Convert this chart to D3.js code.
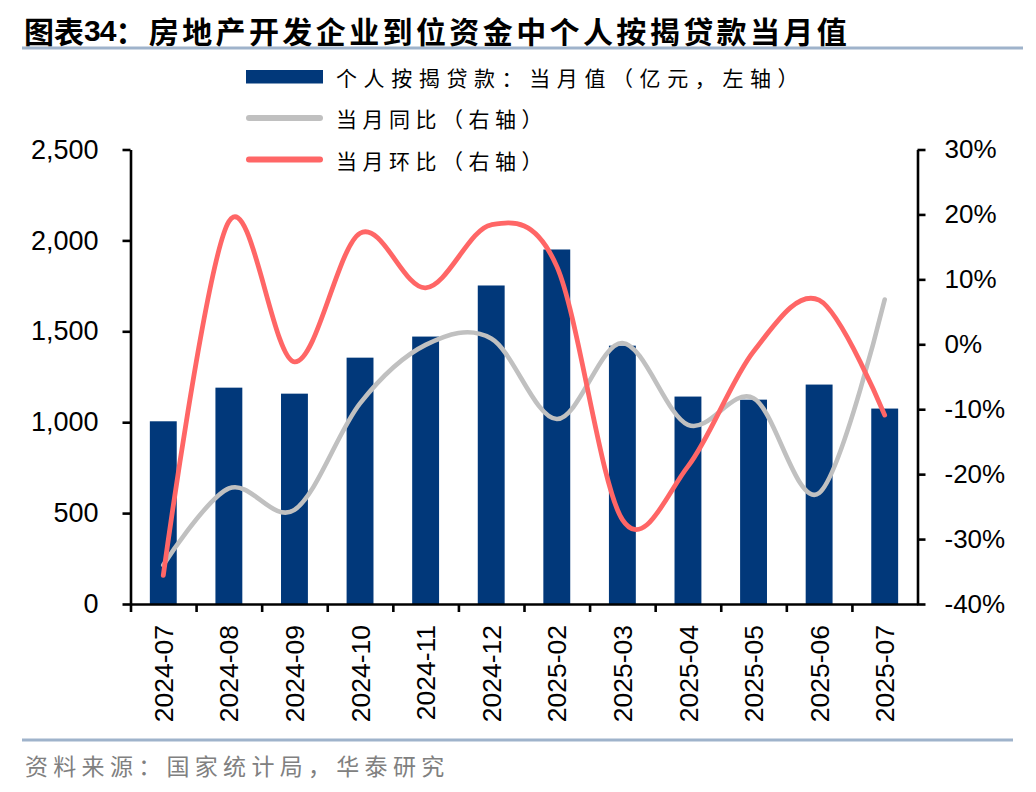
<!DOCTYPE html>
<html><head><meta charset="utf-8">
<script src="https://cdn.jsdelivr.net/npm/d3@7/dist/d3.min.js"></script>
<style>
html,body{margin:0;padding:0;background:#fff;}
svg{display:block;}
</style></head>
<body>
<svg id="chart" width="1036" height="792"></svg>
<script>
const categories = ["2024-07","2024-08","2024-09","2024-10","2024-11","2024-12","2025-02","2025-03","2025-04","2025-05","2025-06","2025-07"];
const loanValues = [1005, 1190, 1157, 1355, 1471, 1752, 1950, 1421, 1141, 1124, 1207, 1075];
const yoyValues  = [-34, -22.2, -25.5, -9.1, -0.1, 0.9, -11.5, 0.2, -12.4, -8.3, -22.9, 6.9];
const momValues  = [-35.6, 18.9, -2.7, 17.1, 8.7, 18.4, 12, -27, -18.8, -1.1, 6.8, -10.9];
const leftTicks = [0, 500, 1000, 1500, 2000, 2500];
const rightTicks = [-40, -30, -20, -10, 0, 10, 20, 30];
const titleText = ["图表", "34", "：房地产开发企业到位资金中个人按揭贷款当月值"];
const legendLabels = ["个人按揭贷款：当月值（亿元，左轴）", "当月同比（右轴）", "当月环比（右轴）"];
const sourceText = "资料来源：国家统计局，华泰研究";

const NUM = "'Liberation Sans', Arial, sans-serif";
const CJK = "'Noto Sans CJK SC', 'Noto Sans', sans-serif";
const C_BAR = "#01387A", C_GRAY = "#C0C0C0", C_RED = "#FF6666", C_RULE = "#9FB3CB";

const svg = d3.select("#chart");

// title
const t = svg.append("text").attr("x", 24).attr("y", 30)
  .attr("dominant-baseline", "central")
  .style("font-family", CJK).style("font-weight", 700).style("font-size", "30px").attr("fill", "#000");
t.append("tspan").text(titleText[0]).style("letter-spacing", "0px");
t.append("tspan").text(titleText[1]).style("font-family", NUM).style("font-size", "30px").style("letter-spacing", "-1px");
t.append("tspan").text(titleText[2]).style("letter-spacing", "3.4px");
svg.append("line").attr("x1", 22).attr("x2", 1023).attr("y1", 48).attr("y2", 48)
  .attr("stroke", C_RULE).attr("stroke-width", 3);

// scales
const plotL = 130.5, plotR = 917.5, plotT = 149.5, plotB = 604;
const x = d3.scaleBand().domain(categories).range([plotL, plotR]).paddingInner(0.59).paddingOuter(0.295);
const xEdge = d3.scaleLinear().domain([0, categories.length]).range([plotL, plotR]);
const yL = d3.scaleLinear().domain([0, 2500]).range([plotB, plotT]);
const yR = d3.scaleLinear().domain([-40, 30]).range([plotB, plotT]);
const cx = d => x(d) + x.bandwidth() / 2;

// bars
svg.append("g").selectAll("rect").data(categories).join("rect")
  .attr("x", d => x(d)).attr("width", x.bandwidth())
  .attr("y", (d, i) => yL(loanValues[i])).attr("height", (d, i) => plotB - yL(loanValues[i]))
  .attr("fill", C_BAR);

// lines
const line = d3.line().x(d => cx(d.c)).y(d => yR(d.v)).curve(d3.curveCardinal.tension(0));
svg.append("path").datum(categories.map((c, i) => ({c, v: yoyValues[i]})))
  .attr("d", line).attr("fill", "none").attr("stroke", C_GRAY).attr("stroke-width", 4.6)
  .attr("stroke-linecap", "round").attr("stroke-linejoin", "round");
svg.append("path").datum(categories.map((c, i) => ({c, v: momValues[i]})))
  .attr("d", line).attr("fill", "none").attr("stroke", C_RED).attr("stroke-width", 4.8)
  .attr("stroke-linecap", "round").attr("stroke-linejoin", "round");

// axes
function styleAxis(g) {
  g.select(".domain").attr("stroke", "#000").attr("stroke-width", 2.6);
  g.selectAll(".tick line").attr("stroke", "#000").attr("stroke-width", 2.6);
  g.selectAll("text").style("font-family", NUM).style("font-size", "26px").attr("fill", "#000");
}
svg.append("g").attr("transform", `translate(${plotL},0)`)
  .call(d3.axisLeft(yL).tickValues(leftTicks).tickFormat(d3.format(",")).tickSize(8).tickSizeOuter(0).tickPadding(24))
  .call(styleAxis).call(g => g.selectAll("text").style("font-size", "27px"));
svg.append("g").attr("transform", `translate(${plotR},0)`)
  .call(d3.axisRight(yR).tickValues(rightTicks).tickFormat(d => d + "%").tickSize(8).tickSizeOuter(0).tickPadding(19))
  .call(styleAxis);
svg.append("g").attr("transform", `translate(0,${plotB})`)
  .call(d3.axisBottom(xEdge).tickValues(d3.range(0, categories.length)).tickFormat("").tickSize(8).tickSizeOuter(0))
  .call(styleAxis);
svg.append("g").attr("transform", `translate(0,${plotB})`)
  .call(d3.axisBottom(x).tickSize(0).tickSizeOuter(0))
  .call(g => g.select(".domain").remove())
  .call(styleAxis)
  .call(g => g.selectAll("text").attr("transform", "rotate(-90)").attr("x", -21).attr("y", 0)
    .attr("dy", "0.36em").attr("text-anchor", "end").style("font-size", "26.5px"));

// legend
const lg = svg.append("g");
lg.append("rect").attr("x", 246).attr("y", 70).attr("width", 77).attr("height", 13.5).attr("fill", C_BAR);
lg.append("line").attr("x1", 249).attr("x2", 320).attr("y1", 118).attr("y2", 118)
  .attr("stroke", C_GRAY).attr("stroke-width", 6).attr("stroke-linecap", "round");
lg.append("line").attr("x1", 249).attr("x2", 320).attr("y1", 159.5).attr("y2", 159.5)
  .attr("stroke", C_RED).attr("stroke-width", 6).attr("stroke-linecap", "round");
const ly = [77, 118, 159.5];
const ls = [6.6, 5.5, 5.5];
legendLabels.forEach((s, i) => {
  lg.append("text").attr("x", 336).attr("y", ly[i]).attr("dominant-baseline", "central")
    .style("font-family", CJK).style("font-size", "21px").style("letter-spacing", ls[i] + "px")
    .attr("fill", "#000").text(s);
});

// footer
svg.append("line").attr("x1", 22).attr("x2", 1013).attr("y1", 740).attr("y2", 740)
  .attr("stroke", C_RULE).attr("stroke-width", 3);
svg.append("text").attr("x", 25).attr("y", 765).attr("dominant-baseline", "central")
  .style("font-family", CJK).style("font-size", "23px").style("letter-spacing", "5.3px")
  .attr("fill", "#808080").text(sourceText);
</script>
</body></html>
